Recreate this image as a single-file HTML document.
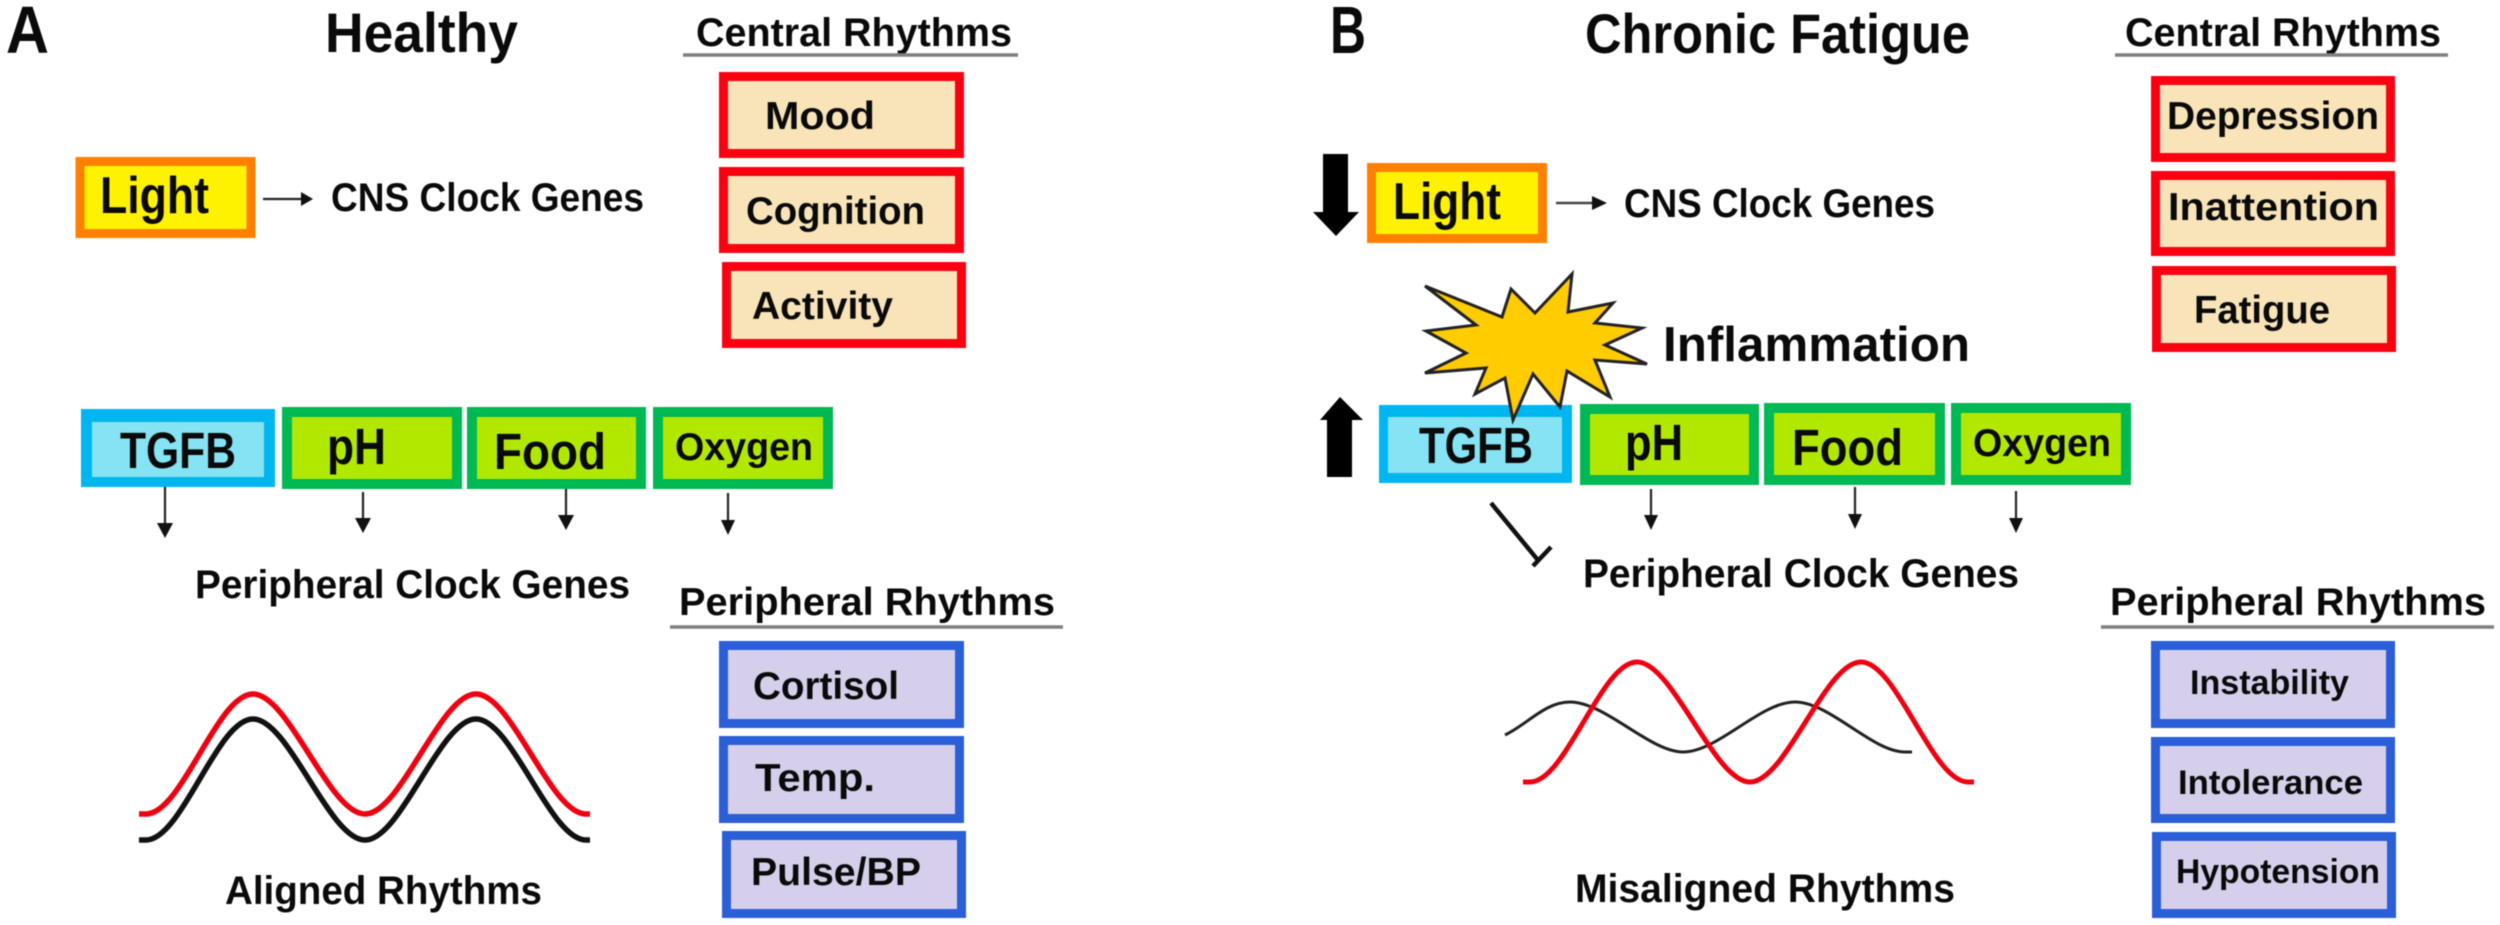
<!DOCTYPE html>
<html lang="en">
<head>
<meta charset="utf-8">
<title>Healthy vs Chronic Fatigue rhythms</title>
<style>
html,body{margin:0;padding:0;background:#fff;width:2500px;height:925px;overflow:hidden}
svg{display:block;filter:blur(0.5px)}
text{font-family:"Liberation Sans",Arial,sans-serif;font-weight:bold;fill:#0a0a0a}
.r{fill:#f8e4b8;stroke:#fa0010;stroke-width:9}
.b{fill:#d5cfeb;stroke:#2a5fd8;stroke-width:9}
.g{fill:#b2e800;stroke:#00b854;stroke-width:10}
.y{fill:#fff200;stroke:#ff8000;stroke-width:9}
.co{fill:#00b6f0}
.ci{fill:#85e3f3}
.u{stroke:#808080;stroke-width:3.5}
.s{stroke:#222;stroke-width:2.2}
.h{fill:#111}
</style>
</head>
<body>
<svg xmlns="http://www.w3.org/2000/svg" width="2500" height="925" viewBox="0 0 2500 925">
<rect width="2500" height="925" fill="#fff"/>

<!-- Panel A -->
<text x="6" y="53" font-size="67" textLength="43" lengthAdjust="spacingAndGlyphs">A</text>
<text x="325" y="52" font-size="56" textLength="193" lengthAdjust="spacingAndGlyphs">Healthy</text>
<text x="696" y="46" font-size="40" textLength="316" lengthAdjust="spacingAndGlyphs">Central Rhythms</text>
<line x1="683" y1="55" x2="1018" y2="55" class="u"/>

<rect x="723.5" y="76.5" width="236" height="77" class="r"/>
<rect x="723.5" y="171.5" width="236" height="77" class="r"/>
<rect x="726.5" y="266.5" width="235" height="77" class="r"/>
<text x="765" y="129" font-size="39" textLength="110" lengthAdjust="spacingAndGlyphs">Mood</text>
<text x="746" y="224" font-size="39" textLength="179" lengthAdjust="spacingAndGlyphs">Cognition</text>
<text x="752" y="319" font-size="39" textLength="141" lengthAdjust="spacingAndGlyphs">Activity</text>

<rect x="80" y="161.5" width="171" height="72" class="y"/>
<text x="100" y="213" font-size="52" textLength="109" lengthAdjust="spacingAndGlyphs">Light</text>
<line x1="263" y1="199" x2="305" y2="199" class="s"/>
<polygon points="313,199 301,192 301,206" class="h"/>
<text x="331" y="211" font-size="40" textLength="313" lengthAdjust="spacingAndGlyphs">CNS Clock Genes</text>

<rect x="81" y="409" width="194" height="78" class="co"/>
<rect x="92" y="422" width="172" height="55" class="ci"/>
<rect x="287" y="412" width="170" height="72" class="g"/>
<rect x="472" y="412" width="169" height="72" class="g"/>
<rect x="658" y="412" width="170" height="72" class="g"/>
<text x="120" y="468" font-size="51" textLength="116" lengthAdjust="spacingAndGlyphs">TGFB</text>
<text x="327" y="464" font-size="51" textLength="59" lengthAdjust="spacingAndGlyphs">pH</text>
<text x="494" y="469" font-size="51" textLength="112" lengthAdjust="spacingAndGlyphs">Food</text>
<text x="675" y="460" font-size="39" textLength="138" lengthAdjust="spacingAndGlyphs">Oxygen</text>

<line x1="165" y1="487" x2="165" y2="525" class="s"/><polygon points="157,523 173,523 165,538" class="h"/>
<line x1="363" y1="492" x2="363" y2="520" class="s"/><polygon points="355,518 371,518 363,533" class="h"/>
<line x1="566" y1="489" x2="566" y2="517" class="s"/><polygon points="558,515 574,515 566,530" class="h"/>
<line x1="728" y1="493" x2="728" y2="522" class="s"/><polygon points="721,520 735,520 728,535" class="h"/>

<text x="195" y="598" font-size="40" textLength="435" lengthAdjust="spacingAndGlyphs">Peripheral Clock Genes</text>
<text x="679" y="615" font-size="39" textLength="376" lengthAdjust="spacingAndGlyphs">Peripheral Rhythms</text>
<line x1="670" y1="627" x2="1063" y2="627" class="u"/>

<rect x="723.5" y="645.5" width="236" height="78" class="b"/>
<rect x="723.5" y="740.5" width="236" height="78" class="b"/>
<rect x="726.5" y="835.5" width="235" height="78" class="b"/>
<text x="753" y="699" font-size="39" textLength="146" lengthAdjust="spacingAndGlyphs">Cortisol</text>
<text x="755" y="791" font-size="39" textLength="120" lengthAdjust="spacingAndGlyphs">Temp.</text>
<text x="751" y="885" font-size="39" textLength="170" lengthAdjust="spacingAndGlyphs">Pulse/BP</text>

<path d="M139,840 L146,840 C182,840 217,719 253,719 C289,719 329,840 365,840 C401,840 440,719 476,719 C512,719 550,840 586,840 L590,840" fill="none" stroke="#111" stroke-width="5.5"/>
<path d="M139,814 L146,814 C182,814 217,694 253,694 C289,694 329,814 365,814 C401,814 440,694 476,694 C512,694 550,814 586,814 L590,814" fill="none" stroke="#f0000f" stroke-width="5.5"/>
<text x="225" y="904" font-size="40" textLength="317" lengthAdjust="spacingAndGlyphs">Aligned Rhythms</text>

<!-- Panel B -->
<text x="1330" y="53" font-size="67" textLength="36" lengthAdjust="spacingAndGlyphs">B</text>
<text x="1585" y="53" font-size="56" textLength="385" lengthAdjust="spacingAndGlyphs">Chronic Fatigue</text>
<text x="2125" y="46" font-size="40" textLength="316" lengthAdjust="spacingAndGlyphs">Central Rhythms</text>
<line x1="2115" y1="55" x2="2448" y2="55" class="u"/>

<rect x="2155.5" y="80.5" width="235" height="77" class="r"/>
<rect x="2155.5" y="175.5" width="235" height="76" class="r"/>
<rect x="2156.5" y="270.5" width="235" height="77" class="r"/>
<text x="2167" y="129" font-size="39" textLength="212" lengthAdjust="spacingAndGlyphs">Depression</text>
<text x="2168" y="220" font-size="39" textLength="211" lengthAdjust="spacingAndGlyphs">Inattention</text>
<text x="2194" y="323" font-size="39" textLength="136" lengthAdjust="spacingAndGlyphs">Fatigue</text>

<polygon points="1323,154 1348,154 1348,212 1359,212 1336,236 1313,212 1323,212" fill="#000"/>
<rect x="1371.5" y="167.5" width="171" height="71" class="y"/>
<text x="1393" y="219" font-size="52" textLength="108" lengthAdjust="spacingAndGlyphs">Light</text>
<line x1="1556" y1="203" x2="1594" y2="203" stroke="#444" stroke-width="2.4"/>
<polygon points="1607,203 1592,196 1592,210" class="h"/>
<text x="1624" y="217" font-size="40" textLength="311" lengthAdjust="spacingAndGlyphs">CNS Clock Genes</text>

<polygon points="1327,477 1352,477 1352,420 1363,420 1340,397 1320,420 1327,420" fill="#000"/>
<rect x="1379" y="405" width="193" height="78" class="co"/>
<rect x="1388" y="417" width="174" height="56" class="ci"/>
<rect x="1585" y="409" width="169" height="71" class="g"/>
<rect x="1769" y="408" width="171" height="72" class="g"/>
<rect x="1956" y="408" width="170" height="72" class="g"/>
<polygon points="1425,286 1502,317 1511,289 1535,313 1572,274 1568,312 1613,303 1595,323 1642,328 1605,345 1647,364 1595,360 1610,397 1567,371 1560,407 1533,374 1513,420 1505,378 1475,394 1486,368 1425,373 1466,353 1426,331 1476,325" fill="#ffcc00" stroke="#222" stroke-width="3"/>
<text x="1663" y="361" font-size="49" textLength="307" lengthAdjust="spacingAndGlyphs">Inflammation</text>
<text x="1419" y="463" font-size="51" textLength="114" lengthAdjust="spacingAndGlyphs">TGFB</text>
<text x="1625" y="460" font-size="51" textLength="58" lengthAdjust="spacingAndGlyphs">pH</text>
<text x="1792" y="465" font-size="51" textLength="111" lengthAdjust="spacingAndGlyphs">Food</text>
<text x="1973" y="456" font-size="39" textLength="138" lengthAdjust="spacingAndGlyphs">Oxygen</text>

<line x1="1651" y1="489" x2="1651" y2="517" class="s"/><polygon points="1644,515 1658,515 1651,530" class="h"/>
<line x1="1855" y1="487" x2="1855" y2="516" class="s"/><polygon points="1848,514 1862,514 1855,529" class="h"/>
<line x1="2016" y1="491" x2="2016" y2="520" class="s"/><polygon points="2009,518 2023,518 2016,533" class="h"/>
<path d="M1491,503 L1537,559 M1551,547 L1533,566" fill="none" stroke="#111" stroke-width="4.5"/>

<text x="1583" y="587" font-size="40" textLength="436" lengthAdjust="spacingAndGlyphs">Peripheral Clock Genes</text>
<text x="2110" y="615" font-size="39" textLength="376" lengthAdjust="spacingAndGlyphs">Peripheral Rhythms</text>
<line x1="2101" y1="627" x2="2494" y2="627" class="u"/>

<rect x="2155.5" y="645.5" width="235" height="78" class="b"/>
<rect x="2155.5" y="741.5" width="235" height="77" class="b"/>
<rect x="2156.5" y="836.5" width="235" height="77" class="b"/>
<text x="2190" y="694" font-size="34" textLength="159" lengthAdjust="spacingAndGlyphs">Instability</text>
<text x="2178" y="794" font-size="34" textLength="185" lengthAdjust="spacingAndGlyphs">Intolerance</text>
<text x="2176" y="883" font-size="34" textLength="204" lengthAdjust="spacingAndGlyphs">Hypotension</text>

<path d="M1505,735 C1528,724 1545,702 1570,702 C1605,702 1650,752 1683,752 C1718,752 1760,702 1795,702 C1830,702 1872,752 1905,752 L1912,752" fill="none" stroke="#222" stroke-width="3"/>
<path d="M1523,782 L1530,782 C1566,782 1601,662 1637,662 C1673,662 1714,782 1750,782 C1786,782 1825,662 1861,662 C1897,662 1932,782 1968,782 L1974,782" fill="none" stroke="#f0000f" stroke-width="5"/>
<text x="1575" y="902" font-size="40" textLength="380" lengthAdjust="spacingAndGlyphs">Misaligned Rhythms</text>
</svg>
</body>
</html>
